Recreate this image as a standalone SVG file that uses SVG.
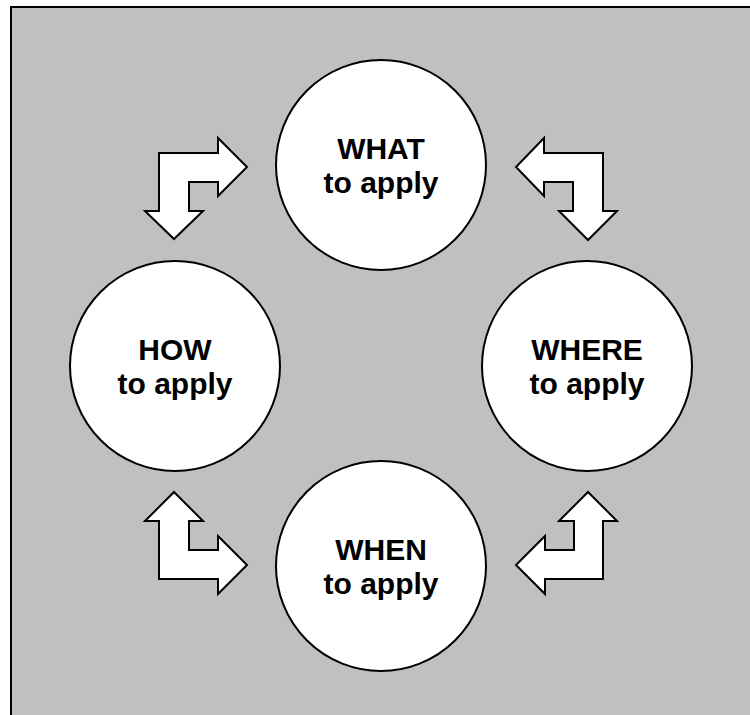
<svg xmlns="http://www.w3.org/2000/svg" width="750" height="715" viewBox="0 0 750 715">
<style>
.node circle{fill:#fff;stroke:#000;stroke-width:2}
.node text{font-family:"Liberation Sans",Arial,sans-serif;font-weight:bold;font-size:30px;text-anchor:middle;fill:#000}
.conn polygon{fill:#fff;stroke:#000;stroke-width:2;stroke-linejoin:miter}
</style>
<rect x="0" y="0" width="750" height="715" fill="#fff"/>
<rect x="11" y="7" width="750" height="720" fill="#c0c0c0" stroke="#000" stroke-width="2"/>
<g id="connectors" class="conn">
<polygon points="159,153 218,153 218,138 247,167 218,196 218,182 189,182 189,211 203,211 174,239 145,211 159,211"/>
<polygon points="603,153 544,153 544,138 516,167 544,196 544,182 573,182 573,211 559,211 588,240 617,211 603,211"/>
<polygon points="174,492 203,521 189,521 189,550 218,550 218,536 247,565 218,594 218,579 159,579 159,521 145,521"/>
<polygon points="588,492 617,521 603,521 603,579 545,579 545,594 516,565 545,536 545,550 574,550 574,521 559,521"/>
</g>
<g id="what" class="node">
<circle cx="381" cy="165" r="105"/>
<text x="381" y="159">WHAT</text>
<text x="381" y="193">to apply</text>
</g>
<g id="how" class="node">
<circle cx="175" cy="366" r="105"/>
<text x="175" y="360">HOW</text>
<text x="175" y="394">to apply</text>
</g>
<g id="where" class="node">
<circle cx="587" cy="366" r="105"/>
<text x="587" y="360">WHERE</text>
<text x="587" y="394">to apply</text>
</g>
<g id="when" class="node">
<circle cx="381" cy="566" r="105"/>
<text x="381" y="560">WHEN</text>
<text x="381" y="594">to apply</text>
</g>
</svg>
